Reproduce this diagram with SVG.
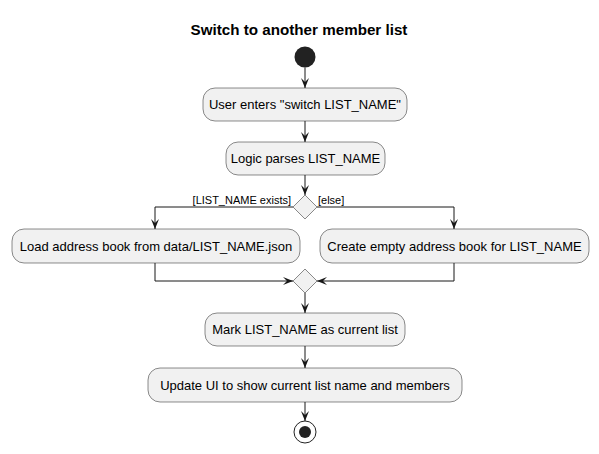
<svg xmlns="http://www.w3.org/2000/svg" width="599" height="454" viewBox="0 0 599 454">
<defs>
<marker id="ah" markerWidth="10" markerHeight="8" refX="10" refY="4" orient="auto" markerUnits="userSpaceOnUse">
<path d="M0,0 L10,4 L0,8 L4,4 Z" fill="#181818"/>
</marker>
<style>
.box{fill:#F1F1F1;stroke:#181818;stroke-width:0.5}
.dia{fill:#F1F1F1;stroke:#181818;stroke-width:0.5}
.t{font-family:"Liberation Sans",Arial,sans-serif;font-size:13px;fill:#000;text-anchor:middle}
.lbl{font-family:"Liberation Sans",Arial,sans-serif;font-size:11px;fill:#000}
.ln{fill:none;stroke:#181818;stroke-width:1;marker-end:url(#ah)}
.title{font-family:"Liberation Sans",Arial,sans-serif;font-size:15.2px;font-weight:bold;text-anchor:middle;fill:#000}
</style>
</defs>
<rect width="599" height="454" fill="#FFFFFF"/>
<text class="title" x="299" y="35">Switch to another member list</text>
<g id="start"><circle cx="305" cy="57" r="10.5" fill="#222222"/></g>
<g id="n1"><rect class="box" x="203" y="88" width="204" height="33" rx="12"/><text class="t" x="305" y="109">User enters "switch LIST_NAME"</text></g>
<g id="n2"><rect class="box" x="226" y="142" width="159" height="33" rx="12"/><text class="t" x="305.5" y="163">Logic parses LIST_NAME</text></g>
<g id="d1"><polygon class="dia" points="305,195 317,207 305,219 293,207"/><text class="lbl" x="291" y="204" text-anchor="end">[LIST_NAME exists]</text><text class="lbl" x="318" y="204">[else]</text></g>
<g id="n3"><rect class="box" x="12" y="229" width="288" height="34" rx="12"/><text class="t" x="156" y="250.5">Load address book from data/LIST_NAME.json</text></g>
<g id="n4"><rect class="box" x="320" y="229" width="269" height="34" rx="12"/><text class="t" x="454.5" y="250.5">Create empty address book for LIST_NAME</text></g>
<g id="d2"><polygon class="dia" points="305,269 317,281 305,293 293,281"/></g>
<g id="n5"><rect class="box" x="205" y="313" width="200" height="33" rx="12"/><text class="t" x="305" y="334">Mark LIST_NAME as current list</text></g>
<g id="n6"><rect class="box" x="148" y="368" width="314" height="34" rx="12"/><text class="t" x="305" y="389.5">Update UI to show current list name and members</text></g>
<g id="end"><circle cx="305" cy="432" r="11" fill="none" stroke="#222222" stroke-width="1"/><circle cx="305" cy="432" r="6" fill="#222222"/></g>
<g id="connectors">
<path class="ln" d="M305,67.5 L305,88"/>
<path class="ln" d="M305,121 L305,142"/>
<path class="ln" d="M305,175 L305,195"/>
<path class="ln" d="M293,207 L155,207 L155,229"/>
<path class="ln" d="M317,207 L454,207 L454,229"/>
<path class="ln" d="M155,263 L155,281 L293,281"/>
<path class="ln" d="M454,263 L454,281 L317,281"/>
<path class="ln" d="M305,293 L305,313"/>
<path class="ln" d="M305,346 L305,368"/>
<path class="ln" d="M305,402 L305,421"/>
</g>
</svg>
